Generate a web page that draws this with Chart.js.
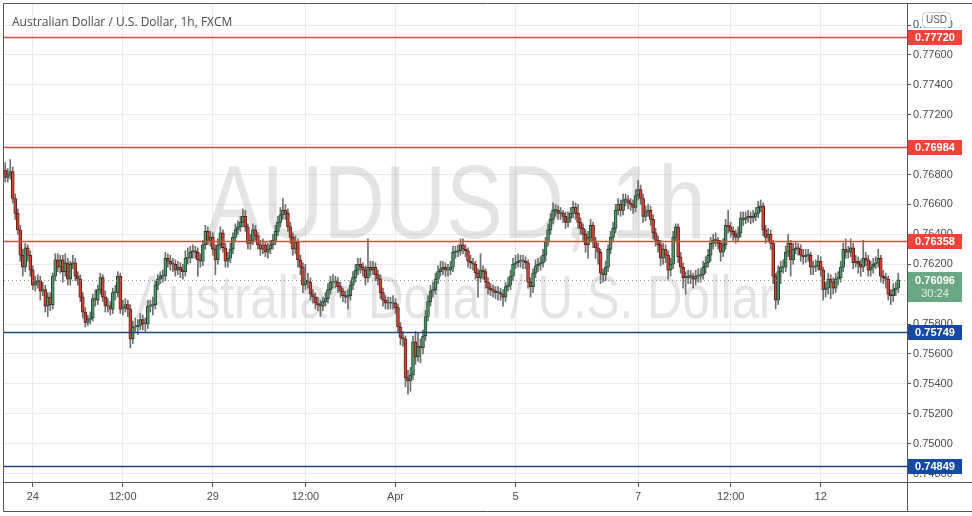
<!DOCTYPE html>
<html>
<head>
<meta charset="utf-8">
<script src="https://cdn.jsdelivr.net/npm/chart.js@4.4.1/dist/chart.umd.min.js"></script>
<style>
  html, body { margin: 0; padding: 0; background: #fff; }
  canvas { display: block; }
</style>
</head>
<body>
<canvas id="myChart" width="972" height="516"></canvas>
<script>
// AUD/USD 1h candles (open = previous close)
const firstOpen = 0.7683;
const closes = [
  0.7678,0.7680,0.7682,0.7664,0.7654,0.7643,0.7626,0.7618,0.7631,0.7626,
  0.7616,0.7606,0.7608,0.7609,0.7602,0.7603,0.7592,0.7598,0.7593,0.7612,
  0.7623,0.7618,0.7623,0.7615,0.7621,0.7610,0.7620,0.7621,0.7612,0.7610,
  0.7598,0.7588,0.7581,0.7583,0.7584,0.7597,0.7596,0.7603,0.7611,0.7598,
  0.7592,0.7592,0.7590,0.7601,0.7601,0.7612,0.7590,0.7591,0.7593,0.7590,
  0.7570,0.7578,0.7578,0.7579,0.7583,0.7580,0.7580,0.7592,0.7592,0.7593,
  0.7606,0.7610,0.7612,0.7612,0.7624,0.7622,0.7620,0.7620,0.7616,0.7618,
  0.7616,0.7615,0.7624,0.7624,0.7628,0.7629,0.7628,0.7623,0.7622,0.7633,
  0.7642,0.7636,0.7638,0.7630,0.7623,0.7633,0.7641,0.7631,0.7622,0.7624,
  0.7630,0.7638,0.7643,0.7645,0.7648,0.7652,0.7645,0.7634,0.7636,0.7643,
  0.7639,0.7633,0.7630,0.7633,0.7628,0.7630,0.7633,0.7636,0.7642,0.7648,
  0.7653,0.7656,0.7654,0.7645,0.7638,0.7630,0.7635,0.7623,0.7618,0.7606,
  0.7609,0.7608,0.7600,0.7598,0.7594,0.7593,0.7592,0.7595,0.7597,0.7603,
  0.7608,0.7608,0.7608,0.7605,0.7602,0.7599,0.7598,0.7599,0.7606,0.7611,
  0.7616,0.7620,0.7618,0.7616,0.7611,0.7618,0.7616,0.7618,0.7613,0.7610,
  0.7601,0.7596,0.7594,0.7594,0.7594,0.7594,0.7591,0.7578,0.7571,0.7570,
  0.7544,0.7542,0.7546,0.7568,0.7558,0.7565,0.7564,0.7572,0.7585,0.7595,
  0.7602,0.7603,0.7610,0.7615,0.7617,0.7618,0.7616,0.7616,0.7618,0.7628,
  0.7628,0.7629,0.7633,0.7630,0.7629,0.7622,0.7621,0.7620,0.7614,0.7611,
  0.7616,0.7615,0.7608,0.7604,0.7603,0.7602,0.7601,0.7601,0.7600,0.7598,
  0.7605,0.7606,0.7612,0.7620,0.7621,0.7622,0.7622,0.7622,0.7621,0.7608,
  0.7605,0.7614,0.7619,0.7620,0.7621,0.7626,0.7635,0.7643,0.7650,0.7656,
  0.7656,0.7654,0.7654,0.7652,0.7648,0.7651,0.7654,0.7658,0.7654,0.7648,
  0.7644,0.7640,0.7633,0.7638,0.7646,0.7635,0.7631,0.7628,0.7614,0.7613,
  0.7618,0.7630,0.7638,0.7644,0.7656,0.7660,0.7656,0.7663,0.7663,0.7661,
  0.7660,0.7658,0.7666,0.7670,0.7664,0.7652,0.7655,0.7656,0.7650,0.7641,
  0.7636,0.7633,0.7624,0.7630,0.7626,0.7616,0.7620,0.7638,0.7645,0.7625,
  0.7618,0.7611,0.7611,0.7612,0.7612,0.7610,0.7612,0.7612,0.7613,0.7618,
  0.7621,0.7626,0.7634,0.7636,0.7636,0.7634,0.7628,0.7633,0.7646,0.7645,
  0.7642,0.7640,0.7638,0.7641,0.7651,0.7650,0.7651,0.7652,0.7651,0.7652,
  0.7654,0.7658,0.7659,0.7643,0.7638,0.7640,0.7634,0.7612,0.7596,0.7615,
  0.7618,0.7618,0.7628,0.7634,0.7623,0.7630,0.7631,0.7630,0.7626,0.7625,
  0.7626,0.7626,0.7618,0.7618,0.7619,0.7622,0.7616,0.7603,0.7604,0.7610,
  0.7608,0.7604,0.7610,0.7611,0.7618,0.7630,0.7628,0.7628,0.7631,0.7621,
  0.7622,0.7620,0.7618,0.7624,0.7623,0.7616,0.7618,0.7620,0.7621,0.7624,
  0.7612,0.7611,0.7610,0.7600,0.7599,0.7603,0.7604,0.76096
];
const highs = [
  0.7688,0.7684,0.7690,0.7685,0.7667,0.7657,0.7646,0.7630,0.7634,0.7633,
  0.7629,0.7619,0.7612,0.7613,0.7612,0.7608,0.7606,0.7601,0.7601,0.7614,
  0.7627,0.7627,0.7626,0.7626,0.7627,0.7624,0.7622,0.7626,0.7624,0.7615,
  0.7613,0.7601,0.7591,0.7586,0.7588,0.7600,0.7603,0.7606,0.7614,0.7613,
  0.7602,0.7597,0.7595,0.7604,0.7606,0.7615,0.7614,0.7596,0.7597,0.7596,
  0.7593,0.7582,0.7584,0.7583,0.7587,0.7586,0.7584,0.7596,0.7596,0.7598,
  0.7609,0.7613,0.7615,0.7616,0.7628,0.7627,0.7626,0.7624,0.7623,0.7622,
  0.7621,0.7620,0.7629,0.7631,0.7632,0.7633,0.7632,0.7631,0.7627,0.7636,
  0.7646,0.7645,0.7642,0.7641,0.7633,0.7637,0.7645,0.7643,0.7634,0.7628,
  0.7634,0.7641,0.7647,0.7649,0.7652,0.7657,0.7656,0.7647,0.7640,0.7647,
  0.7646,0.7641,0.7636,0.7637,0.7635,0.7634,0.7636,0.7640,0.7646,0.7652,
  0.7658,0.7664,0.7660,0.7657,0.7648,0.7641,0.7639,0.7637,0.7626,0.7621,
  0.7620,0.7614,0.7611,0.7603,0.7601,0.7598,0.7596,0.7598,0.7601,0.7607,
  0.7612,0.7613,0.7612,0.7611,0.7608,0.7604,0.7602,0.7603,0.7609,0.7615,
  0.7620,0.7624,0.7624,0.7621,0.7619,0.7637,0.7622,0.7622,0.7621,0.7616,
  0.7613,0.7604,0.7599,0.7598,0.7598,0.7599,0.7597,0.7593,0.7581,0.7575,
  0.7572,0.7549,0.7551,0.7572,0.7575,0.7574,0.7570,0.7576,0.7589,0.7599,
  0.7606,0.7608,0.7614,0.7619,0.7622,0.7622,0.7621,0.7620,0.7622,0.7632,
  0.7632,0.7633,0.7637,0.7637,0.7633,0.7631,0.7626,0.7624,0.7622,0.7617,
  0.7627,0.7619,0.7617,0.7611,0.7607,0.7606,0.7605,0.7605,0.7604,0.7603,
  0.7608,0.7611,0.7616,0.7624,0.7626,0.7627,0.7626,0.7626,0.7625,0.7623,
  0.7611,0.7617,0.7623,0.7624,0.7625,0.7630,0.7638,0.7647,0.7654,0.7661,
  0.7660,0.7659,0.7658,0.7656,0.7655,0.7655,0.7658,0.7662,0.7661,0.7660,
  0.7651,0.7647,0.7643,0.7642,0.7650,0.7648,0.7638,0.7634,0.7630,0.7617,
  0.7622,0.7633,0.7642,0.7648,0.7660,0.7664,0.7663,0.7667,0.7667,0.7666,
  0.7664,0.7663,0.7670,0.7676,0.7673,0.7667,0.7659,0.7660,0.7659,0.7653,
  0.7644,0.7639,0.7636,0.7634,0.7633,0.7629,0.7624,0.7642,0.7647,0.7647,
  0.7628,0.7621,0.7615,0.7616,0.7616,0.7614,0.7616,0.7617,0.7617,0.7622,
  0.7625,0.7630,0.7638,0.7640,0.7641,0.7638,0.7636,0.7637,0.7650,0.7656,
  0.7648,0.7645,0.7643,0.7645,0.7655,0.7655,0.7655,0.7656,0.7655,0.7656,
  0.7658,0.7662,0.7663,0.7661,0.7646,0.7644,0.7643,0.7636,0.7614,0.7619,
  0.7622,0.7623,0.7632,0.7640,0.7636,0.7634,0.7635,0.7634,0.7633,0.7630,
  0.7630,0.7630,0.7628,0.7622,0.7623,0.7626,0.7625,0.7618,0.7608,0.7614,
  0.7613,0.7611,0.7614,0.7615,0.7622,0.7634,0.7637,0.7632,0.7637,0.7634,
  0.7626,0.7625,0.7623,0.7636,0.7628,0.7626,0.7622,0.7624,0.7625,0.7630,
  0.7626,0.7616,0.7614,0.7612,0.7603,0.7607,0.7608,0.7614
];
const lows = [
  0.7675,0.7675,0.7677,0.7661,0.7650,0.7640,0.7622,0.7612,0.7615,0.7622,
  0.7612,0.7603,0.7602,0.7604,0.7596,0.7599,0.7588,0.7585,0.7589,0.7590,
  0.7609,0.7615,0.7614,0.7608,0.7612,0.7606,0.7606,0.7617,0.7609,0.7606,
  0.7595,0.7584,0.7578,0.7579,0.7580,0.7582,0.7592,0.7593,0.7600,0.7595,
  0.7588,0.7588,0.7586,0.7587,0.7596,0.7598,0.7587,0.7586,0.7588,0.7585,
  0.7564,0.7567,0.7575,0.7573,0.7576,0.7576,0.7575,0.7577,0.7588,0.7586,
  0.7590,0.7603,0.7607,0.7608,0.7609,0.7618,0.7616,0.7615,0.7612,0.7613,
  0.7611,0.7610,0.7612,0.7620,0.7621,0.7624,0.7624,0.7612,0.7618,0.7619,
  0.7630,0.7633,0.7632,0.7626,0.7613,0.7620,0.7630,0.7628,0.7618,0.7618,
  0.7621,0.7627,0.7635,0.7640,0.7642,0.7645,0.7642,0.7630,0.7630,0.7633,
  0.7636,0.7630,0.7626,0.7627,0.7625,0.7624,0.7627,0.7630,0.7633,0.7639,
  0.7645,0.7650,0.7650,0.7642,0.7634,0.7626,0.7627,0.7618,0.7613,0.7601,
  0.7603,0.7604,0.7596,0.7594,0.7590,0.7589,0.7585,0.7589,0.7592,0.7594,
  0.7600,0.7604,0.7604,0.7601,0.7598,0.7595,0.7594,0.7590,0.7596,0.7603,
  0.7608,0.7613,0.7614,0.7612,0.7606,0.7608,0.7612,0.7613,0.7609,0.7606,
  0.7597,0.7592,0.7590,0.7590,0.7590,0.7590,0.7587,0.7574,0.7566,0.7565,
  0.7538,0.7533,0.7535,0.7543,0.7553,0.7555,0.7554,0.7560,0.7569,0.7582,
  0.7592,0.7598,0.7600,0.7607,0.7612,0.7613,0.7612,0.7612,0.7613,0.7615,
  0.7624,0.7625,0.7626,0.7627,0.7625,0.7618,0.7617,0.7616,0.7610,0.7598,
  0.7608,0.7610,0.7604,0.7600,0.7599,0.7598,0.7597,0.7596,0.7596,0.7592,
  0.7595,0.7602,0.7603,0.7609,0.7617,0.7618,0.7618,0.7617,0.7617,0.7604,
  0.7598,0.7601,0.7611,0.7615,0.7616,0.7618,0.7622,0.7632,0.7640,0.7647,
  0.7652,0.7650,0.7650,0.7648,0.7644,0.7645,0.7648,0.7651,0.7650,0.7644,
  0.7640,0.7635,0.7628,0.7624,0.7635,0.7631,0.7624,0.7620,0.7607,0.7608,
  0.7609,0.7615,0.7627,0.7635,0.7641,0.7653,0.7652,0.7653,0.7659,0.7657,
  0.7656,0.7654,0.7655,0.7663,0.7660,0.7648,0.7649,0.7652,0.7646,0.7637,
  0.7632,0.7628,0.7619,0.7620,0.7621,0.7610,0.7612,0.7617,0.7635,0.7621,
  0.7614,0.7604,0.7600,0.7607,0.7607,0.7604,0.7606,0.7608,0.7608,0.7610,
  0.7614,0.7618,0.7622,0.7630,0.7632,0.7630,0.7622,0.7625,0.7630,0.7641,
  0.7638,0.7636,0.7634,0.7635,0.7638,0.7646,0.7647,0.7648,0.7647,0.7648,
  0.7649,0.7651,0.7655,0.7639,0.7634,0.7635,0.7630,0.7607,0.7590,0.7593,
  0.7607,0.7614,0.7615,0.7625,0.7612,0.7620,0.7627,0.7626,0.7622,0.7620,
  0.7621,0.7622,0.7613,0.7613,0.7615,0.7616,0.7612,0.7596,0.7598,0.7600,
  0.7597,0.7600,0.7601,0.7606,0.7608,0.7615,0.7624,0.7624,0.7625,0.7617,
  0.7618,0.7614,0.7612,0.7615,0.7619,0.7612,0.7612,0.7614,0.7617,0.7618,
  0.7608,0.7607,0.7604,0.7596,0.7593,0.7595,0.7599,0.7601
];
const opens = closes.map((c, i) => i ? closes[i - 1] : firstOpen);

// time axis: bar index -> label
const slots = 361;
const xTicks = [[11, '24'], [47, '12:00'], [83, '29'], [120, '12:00'], [156, 'Apr'],
                [204, '5'], [253, '7'], [290, '12:00'], [326, '12']];
const yTicks = [0.748, 0.750, 0.752, 0.754, 0.756, 0.758, 0.760, 0.762,
                0.764, 0.766, 0.768, 0.770, 0.772, 0.774, 0.776, 0.778];

// horizontal levels
const levels = [
  { price: 0.77720, box: '#f0433a', line: '#e0483e' },
  { price: 0.76984, box: '#f0433a', line: '#e0483e' },
  { price: 0.76358, box: '#f0433a', line: '#e0483e' },
  { price: 0.75749, box: '#1549a3', line: '#1b4487' },
  { price: 0.74849, box: '#1549a3', line: '#1b4487' }
];
const lastPrice = 0.76096;
const countdown = '30:24';

const labels = Array.from({ length: slots }, () => '');
xTicks.forEach(([i, t]) => labels[i] = t);

const upFill = '#4f9c6d', upLine = '#23472f';
const dnFill = '#d4483a', dnLine = '#641d15';

const overlay = {
  id: 'overlay',
  beforeDatasetsDraw(chart) {
    const { ctx, chartArea: a } = chart;
    const cx = (a.left + a.right) / 2, cy = (a.top + a.bottom) / 2;
    ctx.save();
    ctx.beginPath();
    ctx.rect(a.left, a.top, a.right - a.left, a.bottom - a.top);
    ctx.clip();
    ctx.fillStyle = 'rgba(120,120,120,0.2)';
    ctx.textAlign = 'center';
    ctx.font = '104px "Liberation Sans"';
    ctx.fillText('AUDUSD, 1h', cx, cy - 5, 500);
    ctx.font = '62px "Liberation Sans"';
    ctx.fillText('Australian Dollar / U.S. Dollar', cx, cy + 75, 640);
    ctx.restore();
  },
  afterDatasetsDraw(chart) {
    const { ctx, chartArea: a, scales: { y } } = chart;
    ctx.save();
    ctx.lineWidth = 1.6;
    levels.forEach(l => {
      const py = Math.round(y.getPixelForValue(l.price)) + 0.5;
      ctx.strokeStyle = l.line;
      ctx.beginPath();
      ctx.moveTo(a.left, py);
      ctx.lineTo(a.right, py);
      ctx.stroke();
    });
    const py = Math.round(y.getPixelForValue(lastPrice)) + 0.5;
    ctx.lineWidth = 1;
    ctx.strokeStyle = '#7f9c8a';
    ctx.setLineDash([1, 3]);
    ctx.beginPath();
    ctx.moveTo(a.left, py);
    ctx.lineTo(a.right, py);
    ctx.stroke();
    ctx.restore();
  },
  afterDraw(chart) {
    const { ctx, chartArea: a, scales: { y }, width } = chart;
    ctx.save();
    ctx.textAlign = 'center';
    ctx.textBaseline = 'middle';
    const bx = a.right + 1, bw = 54;
    levels.forEach(l => {
      const py = Math.round(y.getPixelForValue(l.price));
      ctx.fillStyle = l.box;
      ctx.fillRect(bx, py - 7, bw, 15);
      ctx.fillStyle = '#fff';
      ctx.font = 'bold 11px "Liberation Sans"';
      ctx.fillText(l.price.toFixed(5), bx + bw / 2, py + 1);
    });
    // current price tag
    const py = Math.round(y.getPixelForValue(lastPrice));
    ctx.fillStyle = '#6aa883';
    ctx.fillRect(bx, py - 8, bw, 30);
    ctx.fillStyle = '#fff';
    ctx.font = 'bold 11px "Liberation Sans"';
    ctx.fillText(lastPrice.toFixed(5), bx + bw / 2, py + 1);
    ctx.fillStyle = 'rgba(255,255,255,0.8)';
    ctx.font = '11px "Liberation Sans"';
    ctx.fillText(countdown, bx + bw / 2, py + 14);
    // currency badge
    const ux = a.right + 15, uy = a.top + 8;
    ctx.beginPath();
    ctx.roundRect(ux + 0.5, uy + 0.5, 28, 15, 4);
    ctx.fillStyle = '#fff';
    ctx.fill();
    ctx.strokeStyle = '#cfcfcf';
    ctx.stroke();
    ctx.fillStyle = '#555';
    ctx.font = '10px "Liberation Sans"';
    ctx.fillText('USD', ux + 14.5, uy + 8.5);
    // title
    ctx.textAlign = 'left';
    ctx.textBaseline = 'alphabetic';
    ctx.fillStyle = '#4a4a4a';
    ctx.font = '12px "Open Sans"';
    ctx.fillText('Australian Dollar / U.S. Dollar, 1h, FXCM', a.left + 8, a.top + 22, 232);
    // frame
    ctx.strokeStyle = '#555';
    ctx.lineWidth = 1;
    ctx.beginPath();
    ctx.moveTo(3.5, 511.5); ctx.lineTo(3.5, 3.5); ctx.lineTo(width, 3.5);
    ctx.moveTo(3.5, 511.5); ctx.lineTo(width, 511.5);
    ctx.moveTo(a.right, a.bottom + 0.5); ctx.lineTo(width, a.bottom + 0.5);
    ctx.moveTo(a.right + 0.5, a.bottom); ctx.lineTo(a.right + 0.5, 511.5);
    ctx.stroke();
    ctx.restore();
  }
};

var ctx = document.getElementById('myChart').getContext('2d');
var chart = new Chart(ctx, {
  type: 'bar',
  data: {
    labels: labels,
    datasets: [{
      label: 'wicks',
      data: closes.map((c, i) => [lows[i], highs[i]]),
      backgroundColor: '#6e6e6e',
      barThickness: 1,
      grouped: false,
      order: 2
    }, {
      label: 'AUDUSD',
      data: closes.map((c, i) => [opens[i], c]),
      backgroundColor: closes.map((c, i) => c >= opens[i] ? upFill : dnFill),
      borderColor: closes.map((c, i) => c >= opens[i] ? upLine : dnLine),
      borderWidth: 1,
      borderSkipped: false,
      barThickness: 3,
      minBarLength: 1,
      grouped: false,
      order: 1
    }]
  },
  options: {
    responsive: false,
    animation: false,
    devicePixelRatio: 1,
    layout: { padding: { left: 4, top: 4, right: 5, bottom: 4 } },
    plugins: { legend: { display: false }, tooltip: { enabled: false } },
    scales: {
      x: {
        offset: true,
        afterBuildTicks: axis => { axis.ticks = xTicks.map(([i]) => ({ value: i })); },
        afterFit: axis => { axis.height = 30; axis.paddingLeft = 0; axis.paddingRight = 0; },
        ticks: { autoSkip: false, maxRotation: 0, color: '#4a4a4a', padding: 3,
                 font: { size: 11, family: 'Liberation Sans' } },
        grid: { offset: false, color: '#ebebeb', tickColor: '#555', tickLength: 5 },
        border: { color: '#555' }
      },
      y: {
        position: 'right',
        beginAtZero: false,
        min: 0.74743,
        max: 0.77941,
        afterBuildTicks: axis => { axis.ticks = yTicks.map(v => ({ value: v })); },
        afterFit: axis => { axis.width = 60; axis.paddingTop = 0; axis.paddingBottom = 0; },
        ticks: { callback: v => v.toFixed(5), color: '#4a4a4a', padding: 2,
                 font: { size: 11, family: 'Liberation Sans' } },
        grid: { color: '#ebebeb', tickColor: '#555', tickLength: 4 },
        border: { color: '#555' }
      }
    }
  },
  plugins: [overlay]
});
</script>
</body>
</html>
